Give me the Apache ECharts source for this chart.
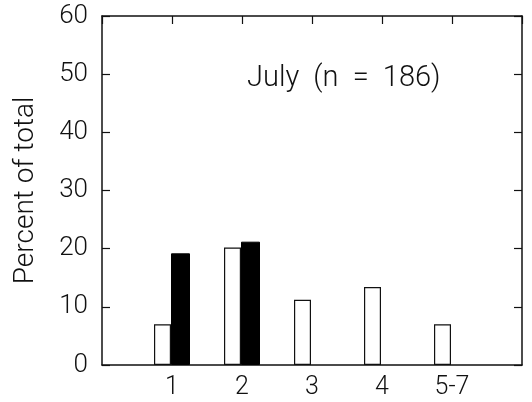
<!DOCTYPE html>
<html>
<head>
<meta charset="utf-8">
<script src="https://cdn.jsdelivr.net/npm/echarts@6/dist/echarts.min.js"></script>
<style>
  html, body { margin: 0; padding: 0; background: #fff; }
  #chart { width: 532px; height: 402px; }
</style>
</head>
<body>
<div id="chart"></div>
<script>
// group sizes along the x axis
const categories = ['1', '2', '3', '4', '5-7'];
// open bars and filled bars (percent of total)
const openValues = [7, 20.2, 11.2, 13.4, 7.0];
const filledValues = [19.2, 21.2, null, null, null];
const yTicks = [0, 10, 20, 30, 40, 50, 60];

// one empty slot on each side so the groups sit away from the frame
const xData = [''].concat(categories, ['']);
const pad = (arr) => ['-'].concat(arr.map((v) => (v === null ? '-' : v)), ['-']);

const chart = echarts.init(document.getElementById('chart'));
const font = 'Roboto, Liberation Sans, sans-serif';
const ink = '#111';

// right-hand frame axis, ticks only
const frameY = {
  type: 'value',
  position: 'right',
  min: yTicks[0],
  max: yTicks[yTicks.length - 1],
  interval: 10,
  axisLine: { show: true, lineStyle: { color: ink, width: 1.5 } },
  axisTick: { show: true, inside: true, length: 8, lineStyle: { color: ink, width: 1.2 } },
  axisLabel: { show: false },
  splitLine: { show: false }
};

const option = {
  animation: false,
  title: {
    text: 'July  (n  =  186)',
    left: 242,
    top: 59,
    textStyle: { fontFamily: font, fontSize: 29, fontWeight: 300, color: ink }
  },
  grid: { left: 102, right: 10, top: 16, bottom: 37 },
  xAxis: [{
    type: 'category',
    data: xData,
    boundaryGap: false,
    axisLine: { onZero: false, lineStyle: { color: ink, width: 1.5 } },
    axisTick: { show: false },
    axisLabel: { fontFamily: font, fontSize: 25, fontWeight: 300, color: ink, margin: 10 }
  }, {
    type: 'category',
    position: 'top',
    data: xData,
    boundaryGap: false,
    axisLine: { onZero: false, lineStyle: { color: ink, width: 1.5 } },
    axisTick: { inside: true, length: 8, lineStyle: { color: ink, width: 1.2 } },
    axisLabel: { show: false }
  }],
  yAxis: [{
    type: 'value',
    min: yTicks[0],
    max: yTicks[yTicks.length - 1],
    interval: 10,
    name: 'Percent of total',
    nameLocation: 'middle',
    nameGap: 62,
    nameTextStyle: { fontFamily: font, fontSize: 28, fontWeight: 300, color: ink },
    axisLine: { show: true, lineStyle: { color: ink, width: 1.5 } },
    axisTick: { show: true, inside: true, length: 8, lineStyle: { color: ink, width: 1.2 } },
    axisLabel: { fontFamily: font, fontSize: 26, fontWeight: 300, color: ink, margin: 14 },
    splitLine: { show: false }
  }, frameY],
  series: [{
    type: 'bar',
    data: pad(openValues),
    barWidth: 17,
    barGap: 0,
    itemStyle: { color: '#fff', borderColor: ink, borderWidth: 1.2 }
  }, {
    type: 'bar',
    data: pad(filledValues),
    barWidth: 19,
    barGap: 0,
    itemStyle: { color: '#000', borderColor: '#000', borderWidth: 1 }
  }]
};

chart.setOption(option);
</script>
</body>
</html>
